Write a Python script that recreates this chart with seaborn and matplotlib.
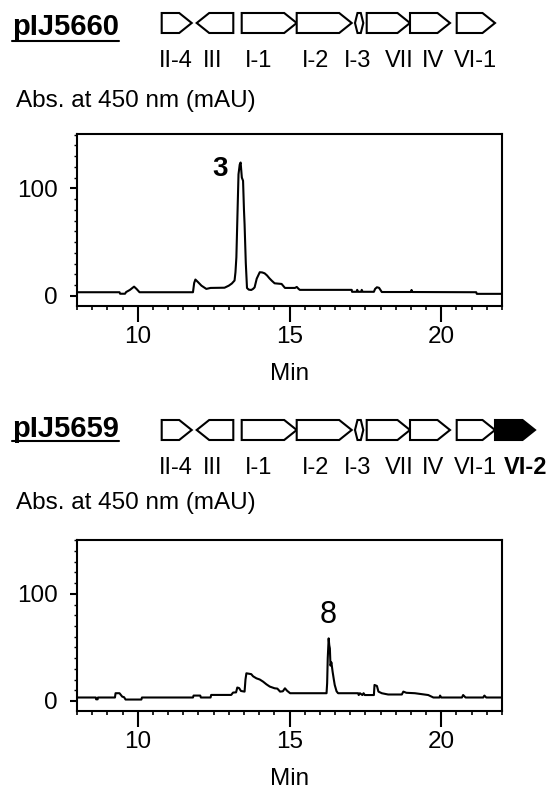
import numpy as np
import pandas as pd
import matplotlib
matplotlib.use("Agg")
import matplotlib.pyplot as plt
import seaborn as sns
from matplotlib.patches import Polygon
from matplotlib.ticker import MultipleLocator, FixedLocator
from matplotlib.lines import Line2D

sns.set_style("ticks")
plt.rcParams['font.family'] = ['Liberation Sans', 'DejaVu Sans']
plt.rcParams.update({"text.color": "black", "axes.labelcolor": "black",
                     "xtick.color": "black", "ytick.color": "black",
                     "axes.edgecolor": "black"})

# ---------------- data ----------------
plasmids = ["pIJ5660", "pIJ5659"]
gene_names = ["II-4", "III", "I-1", "I-2", "I-3", "VII", "IV", "VI-1", "VI-2"]
gene_start = [1.67, 5.17, 9.67, 15.17, 21.0, 22.17, 26.5, 31.17, 35.0]
gene_end = [4.67, 8.83, 15.17, 20.67, 21.83, 26.5, 30.5, 35.0, 39.0]
gene_strand = [1, -1, 1, 1, 0, 1, 1, 1, 1]
genes_in_plasmid = [8, 9]          # pIJ5660 carries the first 8 genes, pIJ5659 all 9
highlight_gene = "VI-2"

# chromatogram pIJ5660 (time in min, absorbance mAU)
t_5660 = [8.0, 9.40, 9.42, 9.58, 9.62, 9.74, 9.88, 9.96, 10.06, 11.82, 11.86, 11.90,
          11.98, 12.10, 12.26, 12.40, 12.86, 13.00, 13.10, 13.19, 13.22, 13.25, 13.29,
          13.32, 13.36, 13.39, 13.43, 13.47, 13.50, 13.52, 13.56, 13.60, 13.66, 13.74,
          13.80, 13.85, 13.92, 14.02, 14.10, 14.18, 14.26, 14.34, 14.42, 14.51, 14.74,
          14.85, 15.18, 15.24, 15.30, 15.34, 17.05, 17.06, 17.21, 17.23, 17.26, 17.36,
          17.38, 17.41, 17.78, 17.82, 17.88, 17.95, 18.04, 19.00, 19.02, 19.05, 21.15,
          21.17, 22.0]
a_5660 = [3.4, 3.4, 2.0, 2.0, 3.6, 5.5, 8.6, 6.5, 3.4, 3.4, 12.0, 15.2,
          13.0, 9.5, 6.5, 7.4, 7.6, 9.5, 11.5, 14.3, 22.0, 35.9, 80.0,
          113.0, 122.0, 124.0, 110.0, 107.0, 80.0, 66.7, 30.7, 7.3, 5.8, 5.5,
          6.5, 7.9, 16.0, 22.0, 21.8, 21.0, 19.0, 16.3, 14.0, 11.7, 11.1,
          7.4, 7.4, 8.3, 6.5, 5.6, 5.6, 3.8, 3.8, 5.6, 3.8, 3.8,
          5.6, 3.8, 3.8, 6.5, 8.0, 7.5, 3.6, 3.6, 5.5, 3.6, 3.4,
          1.9, 1.9]

# chromatogram pIJ5659
t_5659 = [8.0, 8.62, 8.63, 8.68, 8.69, 9.25, 9.27, 9.40, 9.49, 9.55, 9.60, 10.12,
          10.14, 11.82, 11.84, 12.06, 12.08, 12.40, 12.42, 13.08, 13.14, 13.24, 13.28,
          13.34, 13.40, 13.52, 13.55, 13.58, 13.74, 13.80, 13.91, 14.02, 14.13, 14.24,
          14.35, 14.51, 14.60, 14.69, 14.78, 14.85, 14.92, 15.02, 16.22, 16.24, 16.26,
          16.29, 16.31, 16.33, 16.35, 16.38, 16.42, 16.46, 16.49, 16.55, 16.60, 17.26,
          17.28, 17.32, 17.40, 17.44, 17.48, 17.78, 17.80, 17.88, 17.93, 18.04, 18.16,
          18.25, 18.70, 18.75, 18.85, 19.13, 19.57, 19.74, 19.94, 19.96, 20.00, 20.68,
          20.72, 20.80, 21.38, 21.42, 21.48, 22.0]
a_5659 = [3.2, 3.2, 1.5, 1.5, 3.2, 3.2, 7.2, 7.2, 4.0, 3.5, 1.3, 1.3,
          3.2, 3.2, 5.0, 5.0, 3.2, 3.2, 5.6, 5.6, 7.8, 8.0, 12.5,
          12.0, 9.3, 8.7, 20.0, 25.8, 25.0, 23.0, 21.1, 20.0, 18.0, 15.5,
          13.4, 11.8, 11.5, 8.7, 9.0, 11.8, 9.5, 7.2, 7.2, 16.5, 40.0,
          58.4, 52.0, 49.0, 33.0, 36.0, 27.3, 20.0, 14.9, 9.0, 7.2, 7.2,
          5.5, 7.2, 5.5, 7.2, 5.5, 5.5, 14.9, 14.0, 8.7, 7.2, 6.5,
          6.0, 6.0, 8.7, 7.6, 7.2, 5.5, 3.2, 3.2, 5.0, 3.2, 3.2,
          5.5, 3.2, 3.2, 5.0, 3.2, 3.2]

peak_labels = ["3", "8"]
peak_t = [12.71, 16.27]
peak_a = [118, 80]

x_ticks = [10, 15, 20]
y_ticks = [0, 100]
x_label = "Min"
y_label = "Abs. at 450 nm (mAU)"

# ---------------- layout ----------------
W, H = 554, 790
fig = plt.figure(figsize=(W / 100, H / 100), dpi=100)

def rect(left, top, right, bottom):
    return [left / W, 1 - bottom / H, (right - left) / W, (bottom - top) / H]

chrom_rects = [rect(77, 134, 502, 306), rect(77, 539.7, 502, 711)]
gene_rects = [rect(145, 8, 545, 75), rect(145, 415, 545, 482)]
title_y = [27, 429]
underline_y = [41, 441]
abs_y = [101, 503]
label_x_layout = [3.06, 6.77, 11.36, 17.1, 21.26, 25.47, 28.75, 33.07, 38.1]

series = [(t_5660, a_5660), (t_5659, a_5659)]
FS = 17.5

def arrow_poly(s, e, strand, tip=1.25, h=0.5):
    L = e - s
    tip = min(tip, L * 0.45)
    if strand == 1:
        return [(s, -h), (e - tip, -h), (e, 0), (e - tip, h), (s, h)]
    if strand == -1:
        return [(e, -h), (s + tip, -h), (s, 0), (s + tip, h), (e, h)]
    t = L * 0.3
    return [(s, 0), (s + t, -h), (e - t, -h), (e, 0), (e - t, h), (s + t, h)]

title_texts = []
for i in range(2):
    # ----- gene map -----
    gax = fig.add_axes(gene_rects[i])
    gax.set_xlim(0, 40)
    gax.set_ylim(-2.6, 0.75)
    gax.axis("off")
    for k in range(genes_in_plasmid[i]):
        name = gene_names[k]
        filled = (name == highlight_gene)
        poly = Polygon(arrow_poly(gene_start[k], gene_end[k], gene_strand[k]),
                       closed=True, facecolor="black" if filled else "white",
                       edgecolor="black", lw=1.5, joinstyle="miter")
        gax.add_patch(poly)
        gax.text(label_x_layout[k], -1.9, name, ha="center", va="center",
                 fontsize=17, fontweight="bold" if filled else "normal")

    title_texts.append(fig.text(12 / W, 1 - title_y[i] / H, plasmids[i], ha="left",
                                va="center", fontsize=21, fontweight="bold"))
    fig.text(16 / W, 1 - abs_y[i] / H, y_label, ha="left", va="center", fontsize=FS)

    # ----- chromatogram -----
    ax = fig.add_axes(chrom_rects[i])
    df = pd.DataFrame({"t": series[i][0], "mAU": series[i][1]})
    sns.lineplot(data=df, x="t", y="mAU", ax=ax, color="black", lw=1.5,
                 estimator=None, sort=False)
    ax.set_xlim(8, 22)
    ax.set_ylim(-9.4, 150.5)
    ax.xaxis.set_major_locator(FixedLocator(x_ticks))
    ax.xaxis.set_minor_locator(MultipleLocator(0.5))
    ax.yaxis.set_major_locator(FixedLocator(y_ticks))
    ax.yaxis.set_minor_locator(MultipleLocator(10))
    ax.tick_params(axis="x", which="major", length=11.5, width=1.5, pad=3,
                   labelsize=FS, direction="out", colors="black")
    ax.tick_params(axis="x", which="minor", length=3, width=1.2, direction="out",
                   colors="black")
    ax.tick_params(axis="y", which="major", length=5, width=1.5, pad=8.6,
                   labelsize=FS, direction="out", colors="black")
    ax.tick_params(axis="y", which="minor", length=2.2, width=1.0, direction="out",
                   colors="black")
    for sp in ax.spines.values():
        sp.set_visible(True)
        sp.set_linewidth(1.5)
        sp.set_color("black")
    ax.set_ylabel("")
    ax.set_xlabel(x_label, fontsize=FS, color="black")
    ax.xaxis.label.set_va("center")
    ax.xaxis.set_label_coords(0.5, -(374 - 306) / 172)
    ax.text(peak_t[i], peak_a[i], peak_labels[i], ha="center", va="center",
            fontsize=20 if i == 0 else 22, fontweight="bold" if i == 0 else "normal",
            color="black")

fig.canvas.draw()
renderer = fig.canvas.get_renderer()
for i, t in enumerate(title_texts):
    bb = t.get_window_extent(renderer)
    fig.add_artist(Line2D([bb.x0 / W, bb.x1 / W], [1 - underline_y[i] / H] * 2,
                          transform=fig.transFigure, color="black", lw=1.5))

fig.savefig("out.png", dpi=100)
